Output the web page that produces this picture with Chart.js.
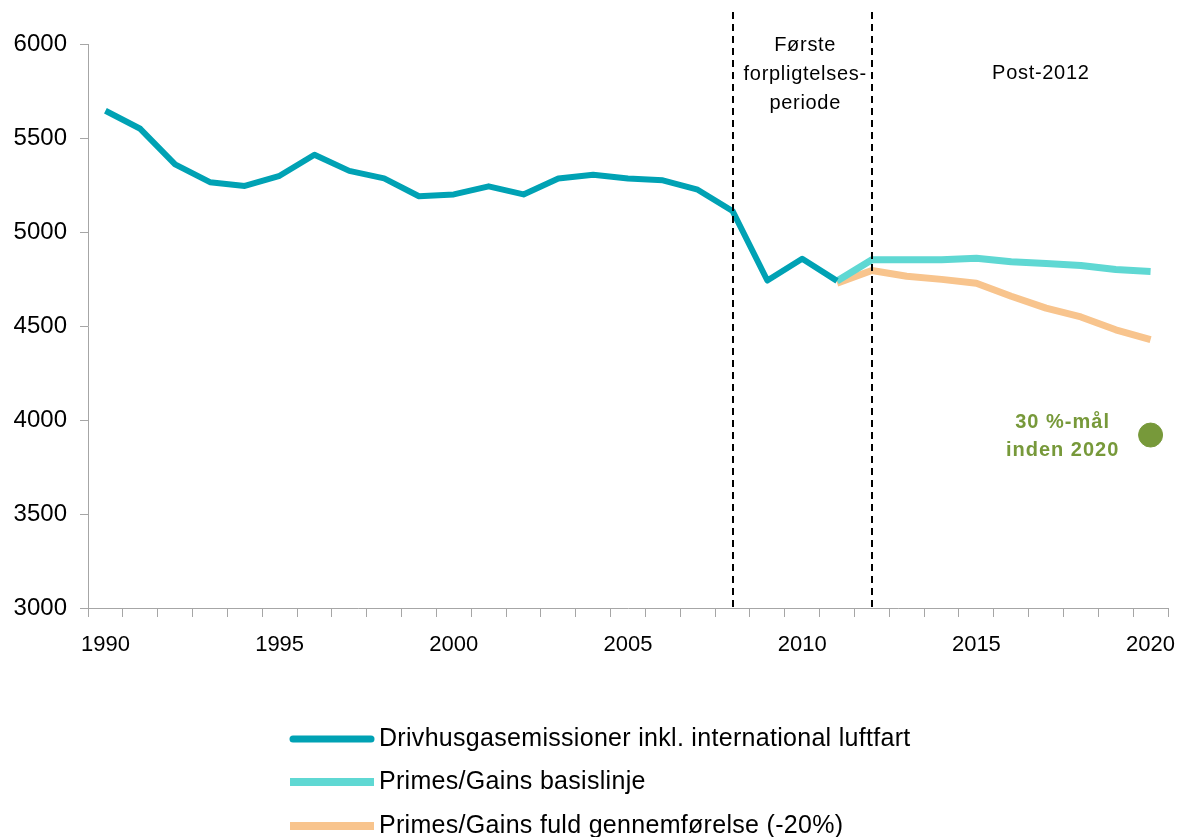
<!DOCTYPE html>
<html lang="da">
<head>
<meta charset="utf-8">
<title>Drivhusgasemissioner</title>
<script src="https://cdn.jsdelivr.net/npm/chart.js@4.4.1/dist/chart.umd.min.js"></script>
<style>
  html, body { margin: 0; padding: 0; background: #fff; }
  #wrap { position: relative; width: 1181px; height: 837px; }
</style>
</head>
<body>
<div id="wrap"><canvas id="grafEmissioner" width="1181" height="837"></canvas></div>
<script>
// Årstal (kategorier på x-aksen)
const aar = [1990, 1991, 1992, 1993, 1994, 1995, 1996, 1997, 1998, 1999,
             2000, 2001, 2002, 2003, 2004, 2005, 2006, 2007, 2008, 2009,
             2010, 2011, 2012, 2013, 2014, 2015, 2016, 2017, 2018, 2019, 2020];

// Historiske emissioner 1990-2011
const emissioner = [5645, 5549, 5360, 5265, 5245, 5299, 5411, 5325, 5285, 5190,
                    5200, 5243, 5200, 5285, 5305, 5285, 5275, 5225, 5112, 4742,
                    4858, 4740, null, null, null, null, null, null, null, null, null];

// Primes/Gains basislinje 2011-2020
const basislinje = [null, null, null, null, null, null, null, null, null, null,
                    null, null, null, null, null, null, null, null, null, null,
                    null, 4740, 4852, 4852, 4852, 4860, 4842, 4833, 4822, 4800, 4790];

// Primes/Gains fuld gennemførelse (-20%) 2011-2020
const fuldGennemfoerelse = [null, null, null, null, null, null, null, null, null, null,
                            null, null, null, null, null, null, null, null, null, null,
                            null, 4728, 4795, 4765, 4748, 4727, 4658, 4595, 4548, 4480, 4428];

// 30 %-mål i 2020
const maal2020 = [null, null, null, null, null, null, null, null, null, null,
                  null, null, null, null, null, null, null, null, null, null,
                  null, null, null, null, null, null, null, null, null, null, 3920];

const yTicks = [3000, 3500, 4000, 4500, 5000, 5500, 6000];
const periodeGraenser = [2008, 2012];

const FONT = '"Liberation Sans", Arial, sans-serif';

// Stiplede linjer, periodetekster, målet og forklaringen
const tegnEkstra = {
  id: 'tegnEkstra',
  afterDatasetsDraw(chart) {
    const ctx = chart.ctx;
    const x = chart.scales.x;
    const y = chart.scales.y;
    const area = chart.chartArea;

    ctx.save();
    ctx.strokeStyle = '#000';
    ctx.lineWidth = 2;
    ctx.setLineDash([7, 5]);
    periodeGraenser.forEach(a => {
      const px = Math.round(x.getPixelForValue(aar.indexOf(a)));
      ctx.beginPath();
      ctx.moveTo(px, 12);
      ctx.lineTo(px, area.bottom);
      ctx.stroke();
    });
    ctx.setLineDash([]);

    // Periodetekster
    ctx.fillStyle = '#000';
    ctx.font = '20px ' + FONT;
    ctx.letterSpacing = '0.7px';
    ctx.textAlign = 'center';
    ctx.textBaseline = 'middle';
    const midt = (x.getPixelForValue(aar.indexOf(2008)) + x.getPixelForValue(aar.indexOf(2012))) / 2;
    ctx.fillText('Første', midt + 3, 45);
    ctx.fillText('forpligtelses-', midt + 3, 74);
    ctx.fillText('periode', midt + 3, 103);
    ctx.fillText('Post-2012', x.getPixelForValue(26.85), 73);

    // Tekst ved målet
    const mx = x.getPixelForValue(aar.indexOf(2020));
    const my = y.getPixelForValue(maal2020[aar.indexOf(2020)]);
    ctx.fillStyle = '#77993A';
    ctx.font = 'bold 20px ' + FONT;
    ctx.letterSpacing = '1px';
    ctx.fillText('30 %-mål', mx - 88, my - 13);
    ctx.fillText('inden 2020', mx - 88, my + 15);

    // Forklaring
    const rows = [739, 782, 826];
    const tykkelse = [7, 8, 8];
    ctx.font = '25px ' + FONT;
    ctx.letterSpacing = '0.3px';
    ctx.textAlign = 'left';
    chart.data.datasets.slice(0, 3).forEach((ds, i) => {
      ctx.strokeStyle = ds.borderColor;
      ctx.lineWidth = tykkelse[i];
      ctx.lineCap = i === 0 ? 'round' : 'butt';
      ctx.beginPath();
      ctx.moveTo(i === 0 ? 293 : 290, rows[i]);
      ctx.lineTo(i === 0 ? 371 : 374, rows[i]);
      ctx.stroke();
      ctx.fillStyle = '#000';
      ctx.fillText(ds.label, 379, rows[i]);
    });
    ctx.restore();
  }
};

function lavGraf() {
  const ctx = document.getElementById('grafEmissioner').getContext('2d');

  new Chart(ctx, {
    type: 'line',
    data: {
      labels: aar,
      datasets: [
        {
          label: 'Drivhusgasemissioner inkl. international luftfart',
          data: emissioner,
          borderColor: '#00A2B4',
          borderWidth: 6,
          pointRadius: 0,
          order: 1
        },
        {
          label: 'Primes/Gains basislinje',
          data: basislinje,
          borderColor: '#5FD8D3',
          borderWidth: 7,
          pointRadius: 0,
          order: 2
        },
        {
          label: 'Primes/Gains fuld gennemførelse (-20%)',
          data: fuldGennemfoerelse,
          borderColor: '#F8C48D',
          borderWidth: 7,
          pointRadius: 0,
          order: 3
        },
        {
          label: '30 %-mål inden 2020',
          data: maal2020,
          showLine: false,
          pointRadius: 12,
          pointBackgroundColor: '#77993A',
          pointBorderColor: '#77993A',
          borderColor: '#77993A',
          order: 0
        }
      ]
    },
    options: {
      responsive: false,
      animation: false,
      devicePixelRatio: 1,
      spanGaps: false,
      elements: { line: { tension: 0, borderJoinStyle: 'round' } },
      layout: { padding: { top: 44, right: 13, bottom: 169, left: 0 } },
      plugins: {
        legend: { display: false },
        tooltip: { enabled: false }
      },
      scales: {
        x: {
          type: 'category',
          offset: true,
          grid: { offset: true, drawOnChartArea: false, color: '#A6A6A6', tickLength: 9 },
          border: { color: '#A6A6A6', width: 1 },
          ticks: {
            autoSkip: false,
            maxRotation: 0,
            padding: 15,
            color: '#000',
            font: { family: FONT, size: 22 },
            callback: function (val, i) { return aar[i] % 5 === 0 ? String(aar[i]) : ''; }
          },
          afterFit: function (scale) {
            scale.height = 60;
            scale.paddingLeft = 0;
            scale.paddingRight = 0;
          }
        },
        y: {
          min: yTicks[0],
          max: yTicks[yTicks.length - 1],
          afterBuildTicks: function (scale) { scale.ticks = yTicks.map(v => ({ value: v })); },
          grid: { drawOnChartArea: false, color: '#A6A6A6', tickLength: 8 },
          border: { color: '#A6A6A6', width: 1 },
          ticks: {
            padding: 13,
            color: '#000',
            font: { family: FONT, size: 24 },
            callback: function (v) { return String(v); }
          },
          afterFit: function (scale) { scale.width = 88; }
        }
      }
    },
    plugins: [tegnEkstra]
  });
}

window.onload = lavGraf;
</script>
</body>
</html>
